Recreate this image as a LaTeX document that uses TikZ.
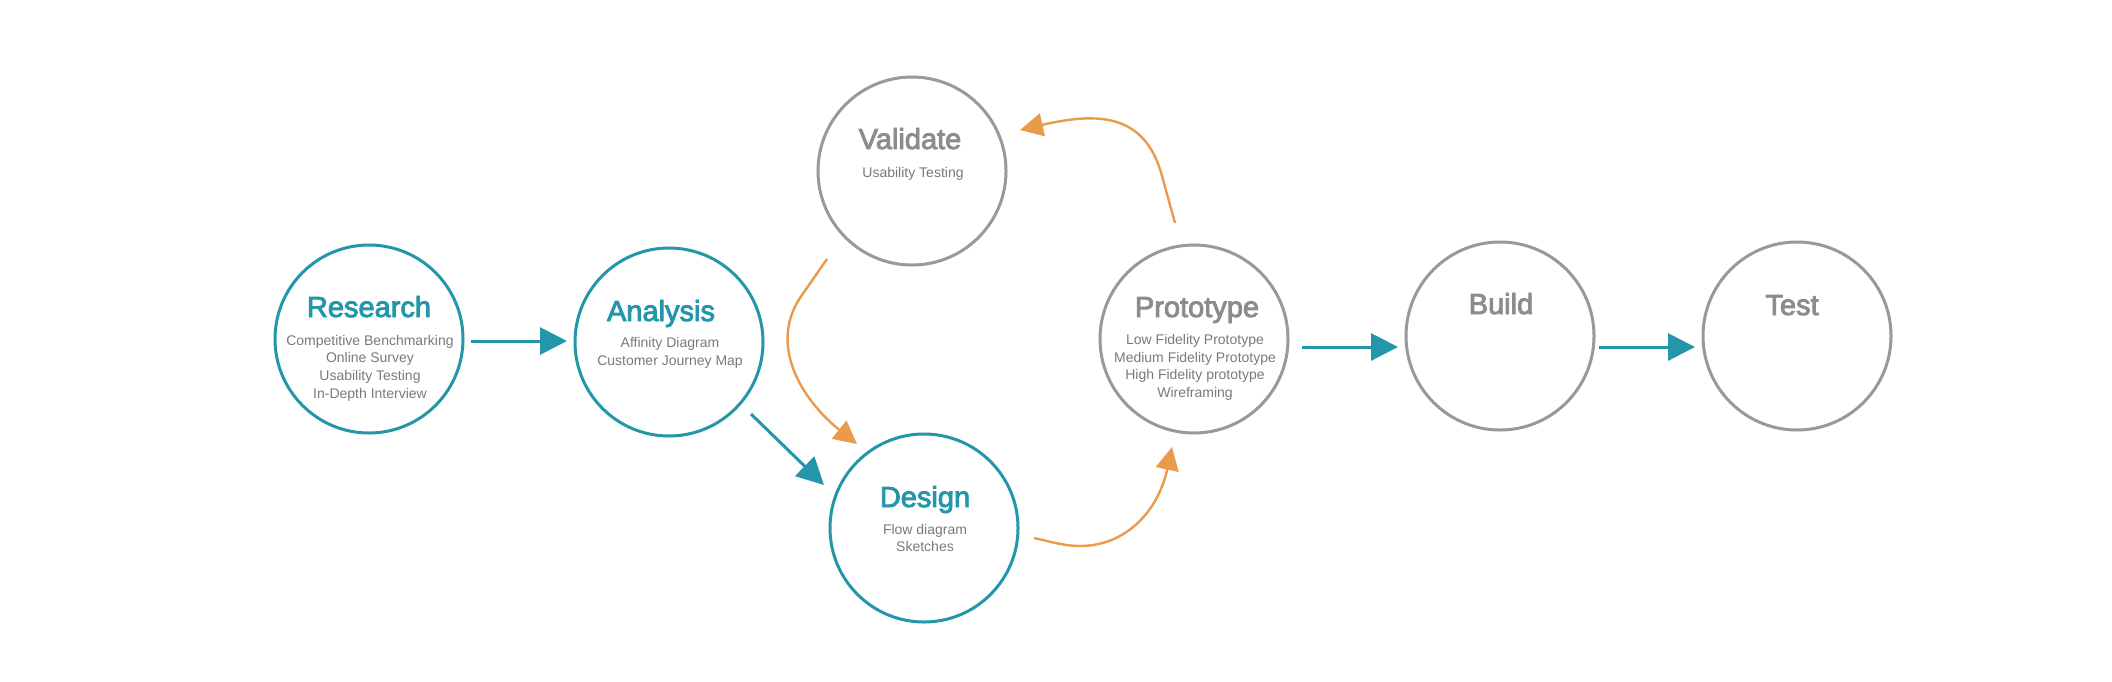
\documentclass[tikz,border=0pt]{standalone}
\usepackage{fontspec}
\setmainfont{Liberation Sans}
\newfontfamily\medfont[FakeBold=3]{Liberation Sans}
\usetikzlibrary{arrows.meta,calc}
\definecolor{tealc}{HTML}{2397A9}
\definecolor{greyc}{HTML}{999999}
\definecolor{greyt}{HTML}{8C8C8C}
\definecolor{subt}{HTML}{7A7A7A}
\definecolor{orangec}{HTML}{EA9A4B}
\begin{document}
\begin{tikzpicture}[x=0.5pt,y=-0.5pt,
  stage/.style={circle, draw=#1, line width=1.5pt, minimum size=94pt, inner sep=0pt},
  ttl/.style={font=\medfont\fontsize{14.5}{16}\selectfont, text=#1, anchor=base, inner sep=0pt},
  subl/.style={font=\fontsize{7}{8.9}\selectfont, text=subt, anchor=base, inner sep=0pt},
  tealarrow/.style={draw=tealc, line width=1.5pt, -{Triangle[length=13.5pt,width=13.5pt]}},
  orangearrow/.style={draw=orangec, line width=1.2pt, -{Triangle[length=11.5pt,width=11.5pt]}}]
\useasboundingbox (0,0) rectangle (2112,681);
\fill[white] (0,0) rectangle (2112,681);

% stages
\node[stage=tealc] (research) at (369,339) {};
\node[stage=tealc] (analysis) at (669,342) {};
\node[stage=greyc] (validate) at (912,171) {};
\node[stage=tealc] (design) at (924,528) {};
\node[stage=greyc] (prototype) at (1194,339) {};
\node[stage=greyc] (build) at (1500,336) {};
\node[stage=greyc] (test) at (1797,336) {};

% titles
\node[ttl=tealc] (researchT) at (369,317) {Research};
\node[ttl=tealc] (analysisT) at (661,321) {Analysis};
\node[ttl=greyt] (validateT) at (910,149) {Validate};
\node[ttl=tealc] (designT) at (925,507) {Design};
\node[ttl=greyt] (prototypeT) at (1197,317) {Prototype};
\node[ttl=greyt] (buildT) at (1501,314) {Build};
\node[ttl=greyt] (testT) at (1792,315) {Test};

% sub lines
\foreach \t [count=\i] in {Competitive Benchmarking, Online Survey, Usability Testing, In-Depth Interview}
  \node[subl] (researchS\i) at (370,{345+17.8*(\i-1)}) {\t};
\foreach \t [count=\i] in {Affinity Diagram, Customer Journey Map}
  \node[subl] (analysisS\i) at (670,{347.3+17.8*(\i-1)}) {\t};
\node[subl] (validateS1) at (913,177.3) {Usability Testing};
\foreach \t [count=\i] in {Flow diagram, Sketches}
  \node[subl] (designS\i) at (925,{534+17.8*(\i-1)}) {\t};
\foreach \t [count=\i] in {Low Fidelity Prototype, Medium Fidelity Prototype, High Fidelity prototype, Wireframing}
  \node[subl] (prototypeS\i) at (1195,{344.3+17.8*(\i-1)}) {\t};

% teal arrows
\draw[tealarrow] ($(research.center)+(102,2)$) -- ($(analysis.center)+(-102,-1)$);
\draw[tealarrow] ($(analysis.center)+(82,72)$) -- ($(design.center)+(-100,-43)$);
\draw[tealarrow] ($(prototype.center)+(108,8)$) -- ($(build.center)+(-102,11)$);
\draw[tealarrow] ($(build.center)+(99,11)$) -- ($(test.center)+(-102,11)$);

% orange arrows
\draw[orangearrow] ($(validate.center)+(-85,88)$) -- (802,295)
  .. controls (767,344) and (802,400) .. ($(design.center)+(-67,-84)$);
\draw[orangearrow] ($(design.center)+(110,10)$) .. controls (1056,543) and (1066,546) .. (1080,546)
  .. controls (1125,546) and (1158,512) .. ($(prototype.center)+(-22,108)$);
\draw[orangearrow] ($(prototype.center)+(-19,-116)$) -- (1162,176)
  .. controls (1145,113) and (1098,112) .. ($(validate.center)+(108,-41)$);
\end{tikzpicture}
\end{document}
